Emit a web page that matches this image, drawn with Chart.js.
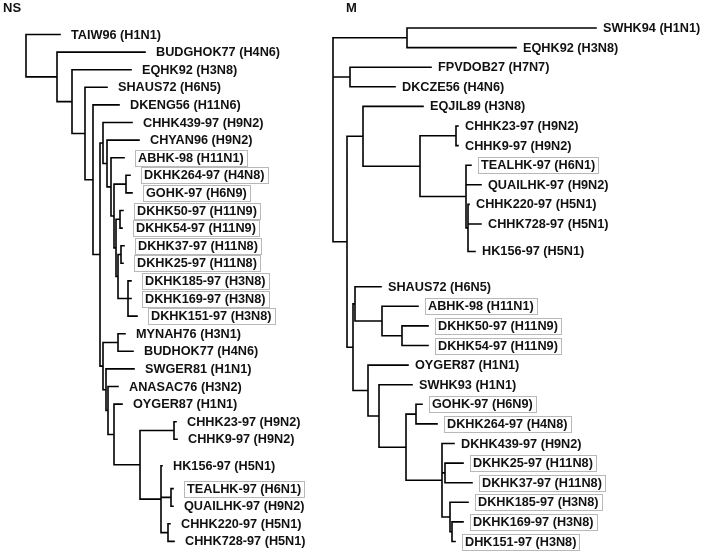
<!DOCTYPE html>
<html>
<head>
<meta charset="utf-8">
<script src="https://cdn.jsdelivr.net/npm/chart.js@4.4.1/dist/chart.umd.min.js"></script>
<style>
  html, body { margin: 0; padding: 0; background: #fff; }
  #wrap { position: relative; width: 704px; height: 558px; }
  #nsBox { position: absolute; left: 0; top: 0; width: 330px; height: 558px; }
  #mBox { position: absolute; left: 330px; top: 0; width: 374px; height: 558px; }
</style>
</head>
<body>
<div id="wrap">
  <div id="nsBox"><canvas id="nsChart" width="330" height="558"></canvas></div>
  <div id="mBox"><canvas id="mChart" width="374" height="558"></canvas></div>
</div>
<script>
// NS tree: leaves top to bottom, row position, tip depth (from root) and parent node
const nsLeaves = [
  'TAIW96 (H1N1)', 'BUDGHOK77 (H4N6)', 'EQHK92 (H3N8)', 'SHAUS72 (H6N5)', 'DKENG56 (H11N6)',
  'CHHK439-97 (H9N2)', 'CHYAN96 (H9N2)', 'ABHK-98 (H11N1)', 'DKHK264-97 (H4N8)', 'GOHK-97 (H6N9)',
  'DKHK50-97 (H11N9)', 'DKHK54-97 (H11N9)', 'DKHK37-97 (H11N8)', 'DKHK25-97 (H11N8)',
  'DKHK185-97 (H3N8)', 'DKHK169-97 (H3N8)', 'DKHK151-97 (H3N8)', 'MYNAH76 (H3N1)', 'BUDHOK77 (H4N6)',
  'SWGER81 (H1N1)', 'ANASAC76 (H3N2)', 'OYGER87 (H1N1)', 'CHHK23-97 (H9N2)', 'CHHK9-97 (H9N2)',
  'HK156-97 (H5N1)', 'TEALHK-97 (H6N1)', 'QUAILHK-97 (H9N2)', 'CHHK220-97 (H5N1)', 'CHHK728-97 (H5N1)'
];
const nsRows = [0, 1, 2, 3, 4, 5, 6, 7, 8, 9, 10, 11, 12, 13, 14, 15, 16, 17, 18, 19, 20, 21, 22, 23,
  24.5, 25.8, 26.8, 27.8, 28.8];
const nsTips = [34, 119, 105, 81, 93, 106, 113, 98, 104, 106, 97, 96, 98, 97, 105, 105, 111, 99, 107,
  108, 92, 96, 150, 151, 136, 147, 147, 144, 148];
const nsTipParent = ['R', 'A', 'B', 'C', 'D', 'F', 'F1', 'F2', 'F4', 'F4', 'F6', 'F6', 'F8', 'F8',
  'F9', 'F9', 'F9', 'MY', 'MY', 'G1', 'G2', 'G3', 'CH', 'CH', 'H', 'H1', 'H1', 'H2', 'H2'];
const nsNodes = ['R', 'A', 'B', 'C', 'D', 'E', 'F', 'F1', 'F2', 'F3', 'F4', 'F5', 'F6', 'F7', 'F8', 'F9',
  'G', 'MY', 'G1', 'G2', 'G3', 'G4', 'CH', 'H', 'H1', 'H2'];
const nsNodeDepth = [0, 31, 46, 59, 67, 74, 77, 81, 85, 88, 100, 90, 94, 92, 95, 102,
  77, 92, 80, 82, 88, 114, 148, 135, 145, 142];
const nsNodeParent = [null, 'R', 'A', 'B', 'C', 'D', 'E', 'F', 'F1', 'F2', 'F3', 'F3', 'F5', 'F5', 'F7', 'F7',
  'E', 'G', 'G', 'G1', 'G2', 'G3', 'G4', 'G4', 'H', 'H'];
const nsBoxed = ['ABHK-98 (H11N1)', 'DKHK264-97 (H4N8)', 'GOHK-97 (H6N9)', 'DKHK50-97 (H11N9)',
  'DKHK54-97 (H11N9)', 'DKHK37-97 (H11N8)', 'DKHK25-97 (H11N8)', 'DKHK185-97 (H3N8)',
  'DKHK169-97 (H3N8)', 'DKHK151-97 (H3N8)', 'TEALHK-97 (H6N1)'];

// M tree
const mLeaves = [
  'SWHK94 (H1N1)', 'EQHK92 (H3N8)', 'FPVDOB27 (H7N7)', 'DKCZE56 (H4N6)', 'EQJIL89 (H3N8)',
  'CHHK23-97 (H9N2)', 'CHHK9-97 (H9N2)', 'TEALHK-97 (H6N1)', 'QUAILHK-97 (H9N2)', 'CHHK220-97 (H5N1)',
  'CHHK728-97 (H5N1)', 'HK156-97 (H5N1)', 'SHAUS72 (H6N5)', 'ABHK-98 (H11N1)', 'DKHK50-97 (H11N9)',
  'DKHK54-97 (H11N9)', 'OYGER87 (H1N1)', 'SWHK93 (H1N1)', 'GOHK-97 (H6N9)', 'DKHK264-97 (H4N8)',
  'DKHK439-97 (H9N2)', 'DKHK25-97 (H11N8)', 'DKHK37-97 (H11N8)', 'DKHK185-97 (H3N8)',
  'DKHK169-97 (H3N8)', 'DHK151-97 (H3N8)'
];
const mRows = [0, 1, 2, 3, 4, 5, 6, 7, 8, 9, 10, 11.4, 13.2, 14.2, 15.2, 16.2, 17.2, 18.2, 19.2, 20.2,
  21.2, 22.2, 23.2, 24.2, 25.2, 26.2];
const mTips = [263, 183, 98, 62, 90, 125, 125, 138, 148, 136, 148, 142, 48, 85, 95, 95, 75, 79, 89, 104,
  121, 130, 139, 135, 130, 122];
const mTipParent = ['A', 'A', 'B', 'B', 'D', 'CH', 'CH', 'H', 'H', 'H2', 'H2', 'H2', 'E1', 'E1a', 'E1b',
  'E1b', 'E2', 'E3', 'GO', 'GO', 'E5', 'E6', 'E6', 'E7', 'E7a', 'E7a'];
const mNodes = ['R', 'A', 'B', 'C', 'D', 'D1', 'CH', 'H', 'H2', 'E', 'E1', 'E1a', 'E1b', 'E2', 'E3', 'E4',
  'GO', 'E5', 'E6', 'E7', 'E7a'];
const mNodeDepth = [0, 74, 17, 14, 30, 87, 123, 133, 135, 20, 22, 49, 69, 35, 46, 73, 83, 109, 112, 117, 119];
const mNodeParent = [null, 'R', 'R', 'R', 'C', 'D', 'D1', 'D1', 'H', 'C', 'E', 'E1', 'E1a', 'E', 'E2', 'E3',
  'E4', 'E4', 'E5', 'E5', 'E7'];
const mBoxed = ['TEALHK-97 (H6N1)', 'ABHK-98 (H11N1)', 'DKHK50-97 (H11N9)', 'DKHK54-97 (H11N9)',
  'GOHK-97 (H6N9)', 'DKHK264-97 (H4N8)', 'DKHK25-97 (H11N8)', 'DKHK37-97 (H11N8)',
  'DKHK185-97 (H3N8)', 'DKHK169-97 (H3N8)', 'DHK151-97 (H3N8)'];

// turn parent lists into rectangular branch segments (null point = pen up)
function treeSegments(tips, rows, tipParent, nodes, nodeDepth, nodeParent) {
    const depthOf = {};
    nodes.forEach((n, i) => depthOf[n] = nodeDepth[i]);
    const yOf = {};

    function childYs(name) {
        const ys = [];
        tipParent.forEach((p, i) => { if (p === name) ys.push(rows[i]); });
        nodeParent.forEach((p, i) => { if (p === name) ys.push(nodeY(nodes[i])); });
        return ys;
    }
    function nodeY(name) {
        if (yOf[name] === undefined) {
            const ys = childYs(name);
            yOf[name] = (Math.min(...ys) + Math.max(...ys)) / 2;
        }
        return yOf[name];
    }

    const pts = [];
    const seg = (x1, y1, x2, y2) => pts.push({ x: x1, y: y1 }, { x: x2, y: y2 }, { x: x2, y: null });

    nodes.forEach((n, i) => {
        const ys = childYs(n);
        seg(nodeDepth[i], Math.min(...ys), nodeDepth[i], Math.max(...ys));
        if (nodeParent[i] !== null) seg(depthOf[nodeParent[i]], nodeY(n), nodeDepth[i], nodeY(n));
    });
    tips.forEach((t, i) => seg(depthOf[tipParent[i]], rows[i], t, rows[i]));
    return pts;
}

function labelPlugin(leaves, rows, tips, boxed, gap, title, titleX) {
    return {
        id: 'leafLabels',
        afterDatasetsDraw(chart) {
            const ctx = chart.ctx;
            const xs = chart.scales.x, ys = chart.scales.y;
            ctx.save();
            ctx.font = 'bold 12.7px "Liberation Sans", Arial, sans-serif';
            ctx.textBaseline = 'middle';
            ctx.fillStyle = '#111';
            leaves.forEach((name, i) => {
                const isBoxed = boxed.includes(name);
                const px = xs.getPixelForValue(tips[i]) + gap + (isBoxed ? 3 : 0);
                const py = ys.getPixelForValue(rows[i]);
                ctx.fillText(name, px, py + 0.5);
                if (isBoxed) {
                    const w = ctx.measureText(name).width;
                    ctx.strokeStyle = '#b8b8b8';
                    ctx.lineWidth = 1;
                    ctx.strokeRect(Math.round(px - 3) + 0.5, Math.round(py - 8) + 0.5, Math.round(w + 6), 16);
                }
            });
            ctx.font = 'bold 13px "Liberation Sans", Arial, sans-serif';
            ctx.fillText(title, titleX, 8);
            ctx.restore();
        }
    };
}

function drawTree(canvasId, pts, xMin, xMax, yMin, yMax, plugin) {
    const ctx = document.getElementById(canvasId).getContext('2d');
    return new Chart(ctx, {
        type: 'scatter',
        data: {
            datasets: [{
                data: pts,
                showLine: true,
                spanGaps: false,
                borderColor: '#000',
                borderWidth: 1.6,
                borderCapStyle: 'square',
                pointRadius: 0,
                pointHoverRadius: 0
            }]
        },
        options: {
            responsive: false,
            animation: false,
            layout: { padding: 0 },
            plugins: { legend: { display: false }, tooltip: { enabled: false } },
            scales: {
                x: { type: 'linear', display: false, min: xMin, max: xMax },
                y: { type: 'linear', display: false, min: yMin, max: yMax, reverse: true }
            }
        },
        plugins: [plugin]
    });
}

// NS rows: 34.5px + 17.6px per row, root 26px from left
drawTree('nsChart',
    treeSegments(nsTips, nsRows, nsTipParent, nsNodes, nsNodeDepth, nsNodeParent),
    -26, 304, -34.5 / 17.6, (558 - 34.5) / 17.6,
    labelPlugin(nsLeaves, nsRows, nsTips, nsBoxed, 11, 'NS', 3));

// M rows: 28px + 19.6px per row, root 3px into right panel
drawTree('mChart',
    treeSegments(mTips, mRows, mTipParent, mNodes, mNodeDepth, mNodeParent),
    -3, 371, -28 / 19.6, (558 - 28) / 19.6,
    labelPlugin(mLeaves, mRows, mTips, mBoxed, 7, 'M', 16));
</script>
</body>
</html>
